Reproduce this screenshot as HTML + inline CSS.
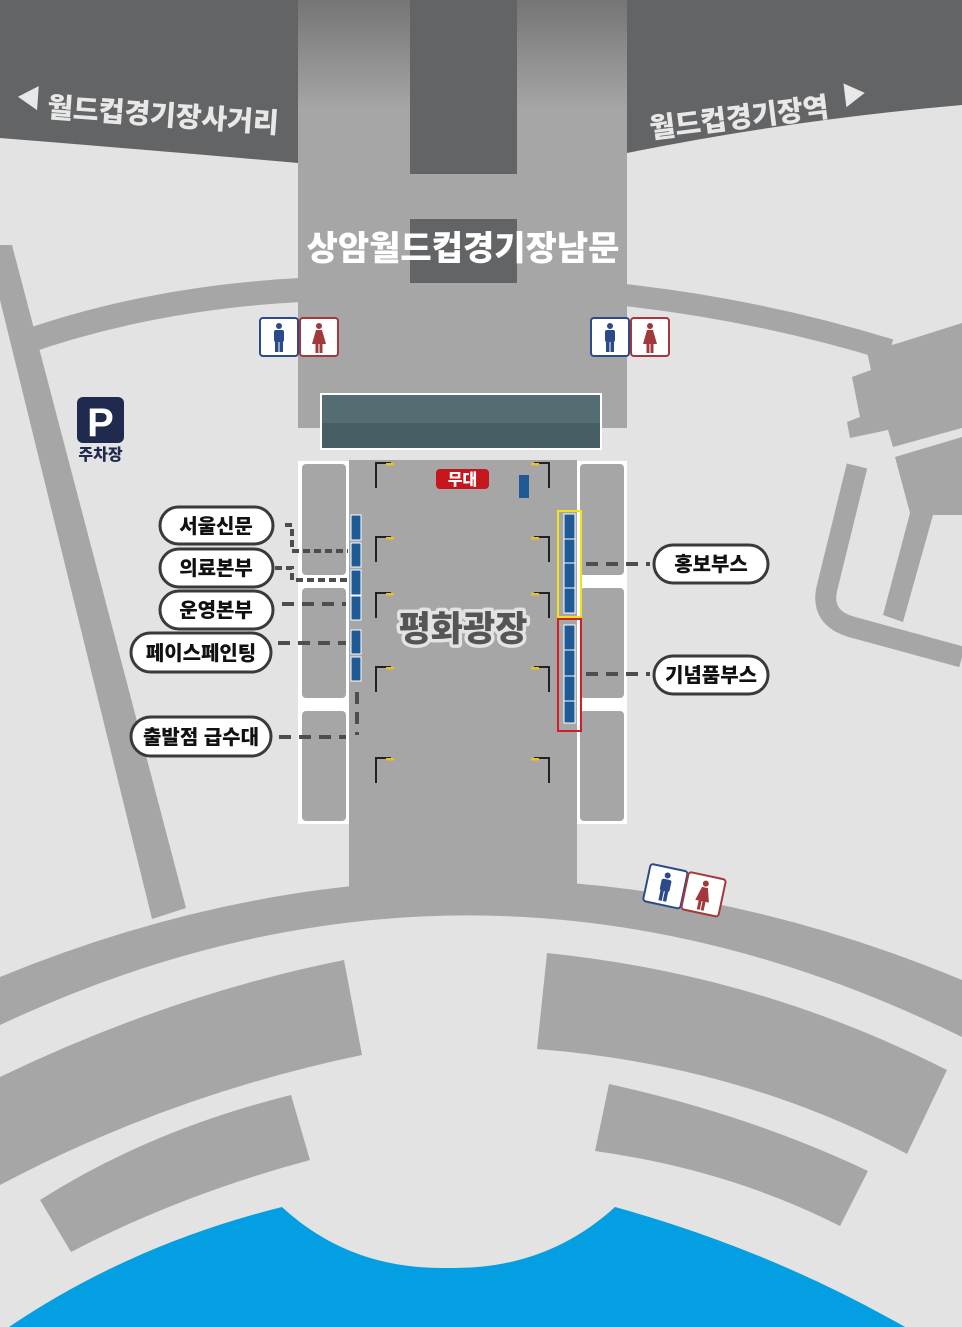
<!DOCTYPE html>
<html><head><meta charset="utf-8"><style>
html,body{margin:0;padding:0;background:#e3e3e3;}
svg{display:block;}
text{font-family:"Liberation Sans","Noto Sans CJK KR",sans-serif;font-weight:900;}
</style></head><body>
<svg width="962" height="1327" viewBox="0 0 962 1327" xmlns="http://www.w3.org/2000/svg">
<defs>
<linearGradient id="rg" gradientUnits="userSpaceOnUse" x1="0" y1="0" x2="0" y2="110">
<stop offset="0" stop-color="#757575"/><stop offset="1" stop-color="#a6a6a6"/>
</linearGradient>
<g id="man"><rect x="0" y="0" width="38" height="38" rx="3" fill="#fff" stroke="#2c4a8a" stroke-width="2"/>
<circle cx="19" cy="8" r="3" fill="#2c4a8a"/><rect x="14" y="12" width="10" height="12" rx="2" fill="#2c4a8a"/><rect x="15" y="22" width="3.5" height="12" fill="#2c4a8a"/><rect x="19.5" y="22" width="3.5" height="12" fill="#2c4a8a"/></g>
<g id="woman"><rect x="0" y="0" width="38" height="38" rx="3" fill="#fff" stroke="#a3383c" stroke-width="2"/>
<circle cx="19" cy="8" r="3" fill="#a3383c"/><path d="M16,12 L22,12 L26,26 L12,26 Z" fill="#a3383c"/><rect x="15.5" y="25" width="3" height="10" fill="#a3383c"/><rect x="19.5" y="25" width="3" height="10" fill="#a3383c"/></g>
<g id="lampL"><path d="M0,27 L0,2 L15,2" fill="none" stroke="#222" stroke-width="2"/><rect x="10" y="2" width="8" height="2.5" fill="#e8c320"/></g>
<g id="lampR"><path d="M0,27 L0,2 L-15,2" fill="none" stroke="#222" stroke-width="2"/><rect x="-18" y="2" width="8" height="2.5" fill="#e8c320"/></g>
</defs>
<rect width="962" height="1327" fill="#e3e3e3"/>
<path d="M0,0 L298,0 L298,163 Q150,150 0,138 Z" fill="#636466"/>
<path d="M627,0 L962,0 L962,105 Q790,120 627,153 Z" fill="#636466"/>
<rect x="298" y="0" width="329" height="428" fill="url(#rg)"/>
<rect x="410" y="0" width="107" height="174" fill="#636466"/>
<rect x="410" y="219" width="107" height="64" fill="#636466"/>
<path d="M22,343 Q150,298 300,290" fill="none" stroke="#a6a6a6" stroke-width="24"/>
<path d="M625,295 Q760,310 890,350" fill="none" stroke="#a6a6a6" stroke-width="22"/>
<polygon points="867,352 902,342 962,323 962,428 893,447 888,430 850,438 847,422 860,417 852,377 871,370" fill="#a6a6a6"/>
<polygon points="895,457 962,437 962,515 933,515 903,622 883,615 910,513" fill="#a6a6a6"/>
<path d="M857,466 L827,588 Q820,618 852,627 L962,657" fill="none" stroke="#a6a6a6" stroke-width="21"/>
<polygon points="0,245 12,245 186,908 152,919 0,300" fill="#a6a6a6"/>
<path d="M0,977 Q480,780 962,980 L962,1037 Q480,800 0,1025 Z" fill="#a6a6a6"/>
<rect x="349" y="460" width="228" height="440" fill="#a6a6a6"/>
<path d="M0,1077 Q170,995 344,960 L362,1055 Q170,1095 0,1185 Z" fill="#a6a6a6"/>
<path d="M40,1200 Q150,1130 291,1095 L310,1160 Q180,1195 71,1252 Z" fill="#a6a6a6"/>
<path d="M547,953 Q760,975 947,1070 L907,1154 Q740,1065 537,1049 Z" fill="#a6a6a6"/>
<path d="M609,1084 Q750,1115 868,1171 L840,1226 Q730,1170 595,1151 Z" fill="#a6a6a6"/>
<path d="M9,1327 Q130,1245 282,1207 Q350,1270 448,1268 Q546,1270 615,1207 Q770,1250 905,1327 Z" fill="#039fe2"/>
<rect x="320" y="393" width="282" height="57" fill="#fff"/>
<rect x="322" y="395" width="278" height="28" fill="#546d73"/>
<rect x="322" y="423" width="278" height="25" fill="#485e65"/>
<rect x="298" y="461" width="51" height="363" fill="#fff"/>
<rect x="577" y="461" width="50" height="363" fill="#fff"/>
<rect x="302" y="464" width="44" height="111" rx="4" fill="#a6a6a6"/>
<rect x="302" y="588" width="44" height="110" rx="4" fill="#a6a6a6"/>
<rect x="302" y="711" width="44" height="110" rx="4" fill="#a6a6a6"/>
<rect x="580" y="464" width="44" height="111" rx="4" fill="#a6a6a6"/>
<rect x="580" y="588" width="44" height="110" rx="4" fill="#a6a6a6"/>
<rect x="580" y="711" width="44" height="110" rx="4" fill="#a6a6a6"/>
<use href="#lampL" x="376" y="461"/><use href="#lampR" x="549" y="461"/>
<use href="#lampL" x="376" y="535"/><use href="#lampR" x="549" y="535"/>
<use href="#lampL" x="376" y="591"/><use href="#lampR" x="549" y="591"/>
<use href="#lampL" x="376" y="665"/><use href="#lampR" x="549" y="665"/>
<use href="#lampL" x="376" y="756"/><use href="#lampR" x="549" y="756"/>
<rect x="436" y="469" width="53" height="20" rx="4" fill="#c4161c"/>
<text x="462.5" y="485" font-size="16" fill="#fff" text-anchor="middle">무대</text>
<rect x="519" y="475" width="10" height="23" fill="#1e5a96"/>
<g fill="#1e5a96" stroke="#fff" stroke-width="1">
<rect x="351" y="515" width="10" height="25"/><rect x="351" y="543" width="10" height="24"/>
<rect x="351" y="570" width="10" height="25"/><rect x="351" y="596" width="10" height="24"/>
<rect x="351" y="630" width="10" height="24"/><rect x="351" y="657" width="10" height="24"/>
<rect x="564" y="514" width="11" height="25"/><rect x="564" y="539" width="11" height="24"/>
<rect x="564" y="563" width="11" height="25"/><rect x="564" y="588" width="11" height="25"/>
<rect x="564" y="625" width="11" height="25"/><rect x="564" y="650" width="11" height="26"/>
<rect x="564" y="676" width="11" height="25"/><rect x="564" y="701" width="11" height="22"/>
</g>
<rect x="558" y="511" width="23" height="106" fill="none" stroke="#f2e318" stroke-width="2"/>
<rect x="558" y="619" width="23" height="112" fill="none" stroke="#d21f26" stroke-width="2"/>
<g fill="none" stroke="#4d4d4d" stroke-width="4" stroke-dasharray="12,8">
<path d="M285,525 L292,525 L292,551 L348,551" stroke-dasharray="7,4"/>
<path d="M275,568 L292,568 L292,580 L349,580" stroke-dasharray="7,4"/>
<path d="M282,604 L346,604"/>
<path d="M278,643 L346,643"/>
<path d="M279,737 L346,737"/>
<path d="M357,692 L357,735"/>
<path d="M586,564 L650,564"/>
<path d="M586,674 L650,674"/>
</g>
<g fill="#fff" stroke="#3a3a3a" stroke-width="3">
<rect x="160" y="507" width="113" height="37" rx="18.5"/>
<rect x="160" y="549" width="113" height="38" rx="19"/>
<rect x="160" y="591" width="113" height="38" rx="19"/>
<rect x="131" y="633" width="140" height="39" rx="19.5"/>
<rect x="131" y="717" width="140" height="39" rx="19.5"/>
<rect x="654" y="545" width="114" height="38" rx="19"/>
<rect x="654" y="656" width="114" height="38" rx="19"/>
</g>
<g font-size="20" fill="#111" text-anchor="middle">
<text x="216" y="533">서울신문</text>
<text x="216" y="575">의료본부</text>
<text x="216" y="617">운영본부</text>
<text x="201" y="660">페이스페인팅</text>
<text x="201" y="744">출발점 급수대</text>
<text x="711" y="571">홍보부스</text>
<text x="711" y="682">기념품부스</text>
</g>
<text x="463" y="260" font-size="34" fill="#fff" text-anchor="middle">상암월드컵경기장남문</text>
<text x="463" y="641" font-size="35" fill="#555" text-anchor="middle" stroke="#e3e3e3" stroke-width="7" paint-order="stroke" stroke-linejoin="round">평화광장</text>
<g transform="rotate(4 150 115)">
<polygon points="17,106 37,94 37,118" fill="#e8e8e8"/>
<text x="47" y="124" font-size="28" fill="#e8e8e8">월드컵경기장사거리</text>
</g>
<g transform="rotate(-7 750 110)">
<text x="648" y="126" font-size="28" fill="#e8e8e8">월드컵경기장역</text>
<polygon points="846,95 846,119 866,107" fill="#e8e8e8"/>
</g>
<use href="#man" x="260" y="318"/><use href="#woman" x="300" y="318"/>
<use href="#man" x="591" y="318"/><use href="#woman" x="631" y="318"/>
<g transform="rotate(12 683 890)"><use href="#man" x="646" y="871"/><use href="#woman" x="685" y="871"/></g>
<rect x="77" y="397" width="47" height="46" rx="6" fill="#1f2a4e"/>
<text x="100.5" y="436" font-size="40" fill="#fff" text-anchor="middle">P</text>
<text x="100.5" y="460" font-size="16" fill="#1f2a4e" text-anchor="middle">주차장</text>
</svg>
</body></html>
